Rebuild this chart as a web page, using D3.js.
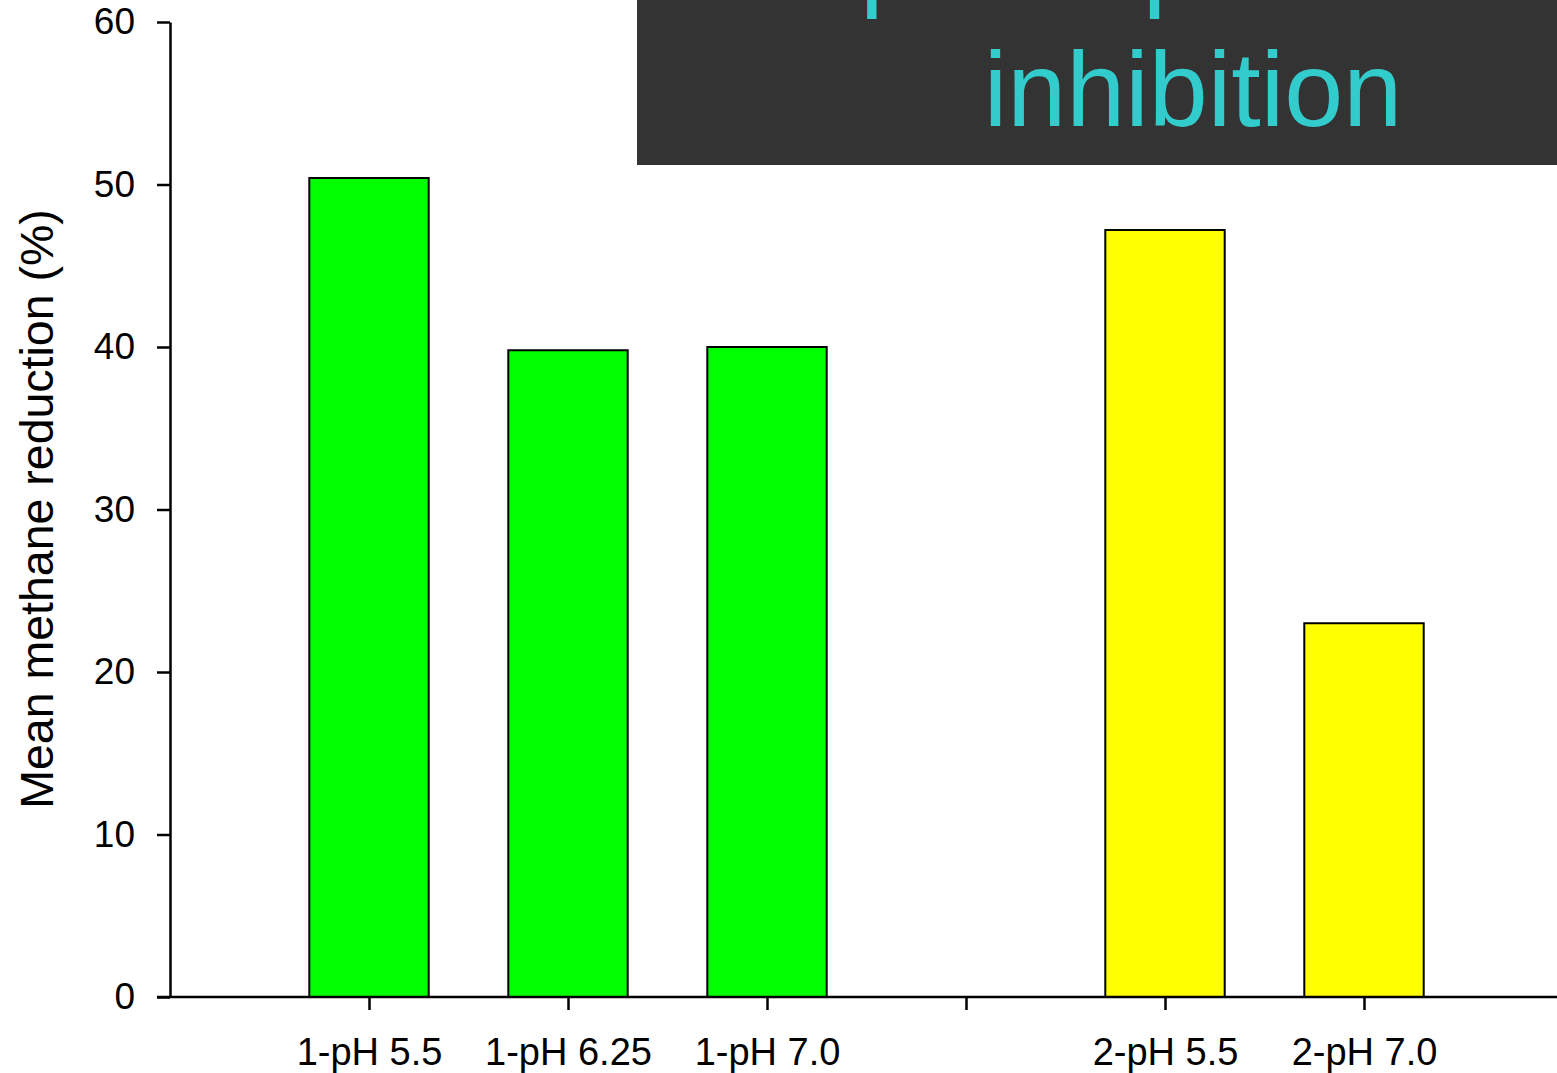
<!DOCTYPE html>
<html>
<head>
<meta charset="utf-8">
<script src="https://cdn.jsdelivr.net/npm/d3@7"></script>
<style>
  html, body { margin: 0; padding: 0; background: #ffffff; }
  svg { display: block; }
  text { font-family: "Liberation Sans", Arial, sans-serif; }
</style>
</head>
<body>
<script>
// Treatments along the x axis; the empty entry is a spacer between the two groups
const categories = ["1-pH 5.5", "1-pH 6.25", "1-pH 7.0", "", "2-pH 5.5", "2-pH 7.0"];
const reduction = [50.4, 39.8, 40.0, null, 47.2, 23.0];
const group = [1, 1, 1, 0, 2, 2];
const yTicks = [0, 10, 20, 30, 40, 50, 60];
const titleLines = ["pH dependent", "inhibition"];

const W = 1557, H = 1073;
const groupColor = { 1: "#00ff00", 2: "#ffff00" };

const svg = d3.select("body").append("svg")
  .attr("width", W).attr("height", H);

const x = d3.scalePoint()
  .domain(categories)
  .range([170, 1563])
  .padding(1);

const y = d3.scaleLinear()
  .domain([0, 60])
  .range([997, 22]);

const barW = x.step() * 0.6;

// Bars
const rows = categories.map((c, i) => ({ c, v: reduction[i], g: group[i] }))
  .filter(d => d.v != null);

svg.append("g").selectAll("rect")
  .data(rows)
  .join("rect")
  .attr("x", d => x(d.c) - barW / 2)
  .attr("y", d => y(d.v))
  .attr("width", barW)
  .attr("height", d => y(0) - y(d.v))
  .attr("fill", d => groupColor[d.g])
  .attr("stroke", "#000")
  .attr("stroke-width", 2);

// Y axis
const yAxis = svg.append("g")
  .attr("transform", "translate(170,0)")
  .call(d3.axisLeft(y).tickValues(yTicks).tickSize(13).tickPadding(22).tickSizeOuter(0));
yAxis.select(".domain").attr("stroke-width", 2.5);
yAxis.selectAll(".tick line").attr("stroke-width", 2.5);
yAxis.selectAll(".tick text")
  .attr("font-size", 37)
  .attr("font-family", "'Liberation Sans', Arial, sans-serif")
  .attr("fill", "#000");

// X axis
const xAxis = svg.append("g")
  .attr("transform", "translate(0,997)")
  .call(d3.axisBottom(x).tickSize(13).tickPadding(28).tickSizeOuter(0));
xAxis.select(".domain")
  .attr("d", `M157,0H${W + 10}`)
  .attr("stroke-width", 2.5);
xAxis.selectAll(".tick line").attr("stroke-width", 2.5);
xAxis.selectAll(".tick text")
  .attr("font-size", 38)
  .attr("font-family", "'Liberation Sans', Arial, sans-serif")
  .attr("fill", "#000");

// Y axis title
svg.append("text")
  .attr("transform", "translate(53,509) rotate(-90)")
  .attr("text-anchor", "middle")
  .attr("font-size", 46.5)
  .attr("fill", "#000")
  .text("Mean methane reduction (%)");

// Dark title panel
svg.append("rect")
  .attr("x", 637).attr("y", 0)
  .attr("width", W - 637).attr("height", 165)
  .attr("fill", "#333333");

svg.append("g").selectAll("text")
  .data(titleLines)
  .join("text")
  .attr("x", 1193)
  .attr("y", (d, i) => -3 + i * 129)
  .attr("text-anchor", "middle")
  .attr("font-size", 106)
  .attr("fill", "#33cccc")
  .text(d => d);
</script>
</body>
</html>
